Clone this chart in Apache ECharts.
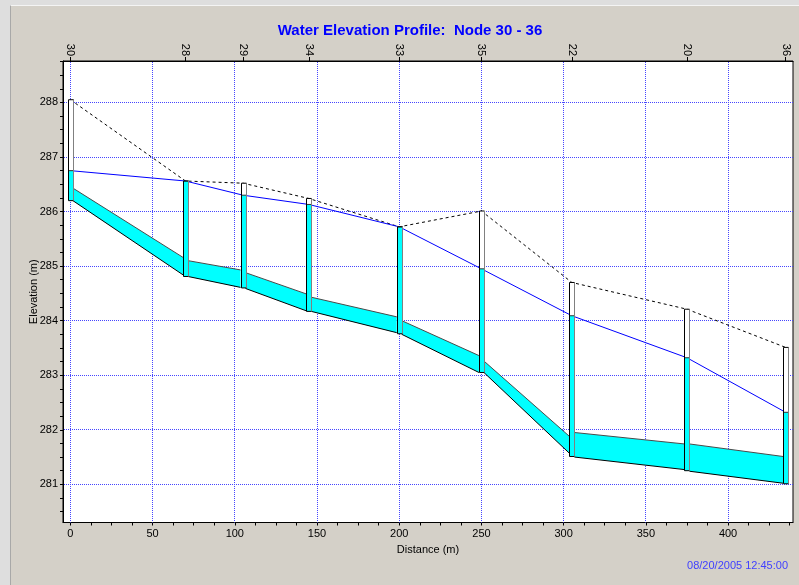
<!DOCTYPE html>
<html>
<head>
<meta charset="utf-8">
<script src="https://cdn.jsdelivr.net/npm/echarts@6/dist/echarts.min.js"></script>
<style>
html,body{margin:0;padding:0;background:#dedede;overflow:hidden;}
#panel{position:absolute;left:10px;top:5px;width:789px;height:580px;background:#d4d0c8;border-left:1px solid #a8a8a8;border-top:1px solid #f4f4f4;}
#c{position:absolute;left:0;top:0;width:799px;height:585px;}
</style>
</head>
<body>
<div id="panel"></div>
<div id="c"></div>
<script>
// ---- data ----
const nodeNames  = ['30','28','29','34','33','35','22','20','36'];
const nodeDist   = [0, 70, 105, 145, 200, 250, 305, 375, 435];
const nodeInvert = [286.20, 284.81, 284.60, 284.17, 283.76, 283.05, 281.51, 281.25, 281.01];
const nodeRim    = [288.05, 286.56, 286.52, 286.24, 285.72, 286.01, 284.70, 284.21, 283.51];
const waterElev  = [286.75, 286.56, 286.30, 286.13, 285.72, 284.95, 284.09, 283.32, 282.32];

// links between consecutive nodes (upstream end / downstream end)
const linkInvertUp = [286.20, 284.81, 284.59, 284.17, 283.75, 283.05, 281.50, 281.24];
const linkCrownUp  = [286.43, 285.10, 284.88, 284.43, 284.00, 283.26, 281.95, 281.74];
const linkInvertDn = [284.84, 284.61, 284.18, 283.78, 283.05, 281.57, 281.27, 281.02];
const linkCrownDn  = [285.16, 284.93, 284.49, 284.07, 283.36, 281.88, 281.74, 281.51];

// axis ticks and labels
const xTicks  = [0,12.5,25,37.5,50,62.5,75,87.5,100,112.5,125,137.5,150,162.5,175,187.5,200,212.5,225,237.5,250,262.5,275,287.5,300,312.5,325,337.5,350,362.5,375,387.5,400,412.5,425,437.5];
const xLabels = [0,50,100,150,200,250,300,350,400];
const yTicks  = [280.5,280.75,281,281.25,281.5,281.75,282,282.25,282.5,282.75,283,283.25,283.5,283.75,284,284.25,284.5,284.75,285,285.25,285.5,285.75,286,286.25,286.5,286.75,287,287.25,287.5,287.75,288,288.25,288.5,288.75];
const yLabels = [281,282,283,284,285,286,287,288];

const titleText = 'Water Elevation Profile:  Node 30 - 36';
const stampText = '08/20/2005 12:45:00';

// ---- chart ----
const FONT = 'Liberation Sans, Arial, sans-serif';
const HW = 2.5; // half width of node box in px
const GRID_COLOR = '#4646ff';
const chart = echarts.init(document.getElementById('c'), null, {renderer:'canvas'});

const linkData = linkInvertUp.map((v, i) => [nodeDist[i], v]);
const nodeData = nodeDist.map((d, i) => [d, nodeInvert[i]]);
const crisp = v => Math.round(v - 0.5) + 0.5;

const option = {
  animation: false,
  backgroundColor: 'transparent',
  textStyle: {fontFamily: FONT},
  grid: {
    left: 63, top: 61, width: 730, height: 461.5,
    show: true, backgroundColor: '#ffffff', borderColor: '#000', borderWidth: 1,
    containLabel: false, outerBoundsMode: 'none'
  },
  xAxis: [
    {
      type: 'value', position: 'bottom', min: -4.5, max: 439.5,
      axisLine: {show: true, onZero: false, lineStyle: {color: '#000', width: 1}},
      axisTick: {show: true, customValues: xTicks, length: 3, lineStyle: {color: '#000'}},
      axisLabel: {customValues: xLabels, color: '#000', fontSize: 11, margin: 6, fontFamily: FONT},
      splitLine: {show: false},
      name: 'Distance (m)', nameLocation: 'middle', nameGap: 20,
      nameTextStyle: {color: '#000', fontSize: 11, fontFamily: FONT}
    },
    {
      type: 'value', position: 'top', min: -4.5, max: 439.5,
      axisLine: {show: true, onZero: false, lineStyle: {color: '#000', width: 1}},
      axisTick: {show: true, customValues: nodeDist, length: 4, lineStyle: {color: '#000'}},
      axisLabel: {
        customValues: nodeDist, rotate: 90, color: '#000', fontSize: 11, margin: 5, fontFamily: FONT,
        formatter: v => { const k = nodeDist.indexOf(v); return k >= 0 ? nodeNames[k] : ''; }
      },
      splitLine: {show: false}
    }
  ],
  yAxis: [
    {
      type: 'value', min: 280.3, max: 288.76,
      axisLine: {show: true, onZero: false, lineStyle: {color: '#000', width: 1}},
      axisTick: {show: true, customValues: yTicks, length: 3, lineStyle: {color: '#000'}},
      axisLabel: {customValues: yLabels, color: '#000', fontSize: 11, margin: 5, fontFamily: FONT},
      splitLine: {show: false},
      name: 'Elevation (m)', nameLocation: 'middle', nameGap: 24, nameRotate: 90, nameMoveOverlap: false,
      nameTextStyle: {color: '#000', fontSize: 11, fontFamily: FONT}
    }
  ],
  graphic: [
    {type: 'text', x: 410, y: 31, z: 100,
     style: {text: titleText, fill: '#0000ff', font: 'bold 15px ' + FONT, textAlign: 'center', textVerticalAlign: 'middle'}},
    {type: 'text', x: 788, y: 566, z: 100,
     style: {text: stampText, fill: '#4040ff', font: '11px ' + FONT, textAlign: 'right', textVerticalAlign: 'middle'}}
  ],
  series: [
    { // vertical grid lines
      type: 'custom', z: 1, silent: true, clip: false,
      data: xLabels.map(v => [v, yLabels[0]]),
      renderItem: function (params, api) {
        const cs = params.coordSys;
        const p = api.coord([api.value(0), api.value(1)]);
        const x = crisp(p[0]);
        return {type: 'line', shape: {x1: x, y1: cs.y + 1, x2: x, y2: cs.y + cs.height},
                style: {stroke: GRID_COLOR, lineWidth: 1, lineDash: [1, 1]}};
      }
    },
    { // horizontal grid lines
      type: 'custom', z: 1, silent: true, clip: false,
      data: yLabels.map(v => [xLabels[0], v]),
      renderItem: function (params, api) {
        const cs = params.coordSys;
        const p = api.coord([api.value(0), api.value(1)]);
        const y = crisp(p[1]);
        return {type: 'line', shape: {x1: cs.x + 1, y1: y, x2: cs.x + cs.width, y2: y},
                style: {stroke: GRID_COLOR, lineWidth: 1, lineDash: [1, 1]}};
      }
    },
    { // links (conduits)
      type: 'custom', z: 2, silent: true, data: linkData,
      renderItem: function (params, api) {
        const i = params.dataIndex;
        const a = api.coord([nodeDist[i], linkCrownUp[i]]);
        const b = api.coord([nodeDist[i + 1], linkCrownDn[i]]);
        const c = api.coord([nodeDist[i + 1], linkInvertDn[i]]);
        const d = api.coord([nodeDist[i], linkInvertUp[i]]);
        const x1 = a[0] + HW, x2 = b[0] - HW;
        return {type: 'group', children: [
          {type: 'polygon', shape: {points: [[x1, a[1]], [x2, b[1]], [x2, c[1]], [x1, d[1]]]},
           style: {fill: '#00ffff', stroke: null}},
          {type: 'polyline', shape: {points: [[x1, a[1]], [x2, b[1]]]}, style: {stroke: '#4a4a4a', lineWidth: 1, fill: null}},
          {type: 'polyline', shape: {points: [[x1, d[1]], [x2, c[1]]]}, style: {stroke: '#000', lineWidth: 1, fill: null}}
        ]};
      }
    },
    { // ground surface
      type: 'line', z: 3, silent: true, symbol: 'none', showSymbol: false,
      data: nodeDist.map((d, i) => [d, nodeRim[i]]),
      lineStyle: {color: '#000', width: 1, type: [3, 3]}
    },
    { // hydraulic grade line
      type: 'line', z: 3, silent: true, symbol: 'none', showSymbol: false,
      data: nodeDist.map((d, i) => [d, waterElev[i]]),
      lineStyle: {color: '#0000ff', width: 1}
    },
    { // nodes (manholes)
      type: 'custom', z: 4, silent: true, data: nodeData,
      renderItem: function (params, api) {
        const i = params.dataIndex;
        const t = api.coord([nodeDist[i], nodeRim[i]]);
        const b = api.coord([nodeDist[i], nodeInvert[i]]);
        const w = api.coord([nodeDist[i], waterElev[i]]);
        const x0 = Math.round(t[0] - HW) + 0.5;
        const wid = 2 * HW;
        return {type: 'group', children: [
          {type: 'rect', shape: {x: x0, y: t[1], width: wid, height: b[1] - t[1]}, style: {fill: '#ffffff', stroke: null}},
          {type: 'rect', shape: {x: x0, y: w[1], width: wid, height: b[1] - w[1]}, style: {fill: '#00ffff', stroke: null}},
          {type: 'line', shape: {x1: x0, y1: w[1], x2: x0 + wid, y2: w[1]}, style: {stroke: '#333', lineWidth: 1}},
          {type: 'rect', shape: {x: x0, y: t[1], width: wid, height: b[1] - t[1]}, style: {fill: null, stroke: '#000', lineWidth: 1}},
          {type: 'line', shape: {x1: x0 + wid, y1: t[1], x2: x0 + wid, y2: b[1]}, style: {stroke: '#808080', lineWidth: 1}}
        ]};
      }
    }
  ]
};
chart.setOption(option);
</script>
</body>
</html>
